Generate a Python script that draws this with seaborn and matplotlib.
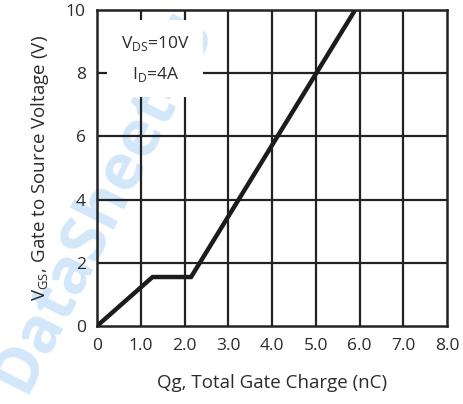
import matplotlib
matplotlib.use("Agg")
import matplotlib.pyplot as plt
import seaborn as sns
import pandas as pd

# Data
qg_nc = [0.0, 1.27, 2.15, 5.9]
vgs_v = [0.0, 1.55, 1.55, 10.0]
x_ticks = [0, 1, 2, 3, 4, 5, 6, 7, 8]
x_tick_labels = ["0", "1.0", "2.0", "3.0", "4.0", "5.0", "6.0", "7.0", "8.0"]
y_ticks = [0, 2, 4, 6, 8, 10]
y_tick_labels = ["0", "2", "4", "6", "8", "10"]

df = pd.DataFrame({"Qg": qg_nc, "Vgs": vgs_v})

sns.set_theme(style="white")
plt.rcParams["font.family"] = ["Open Sans", "DejaVu Sans"]
plt.rcParams["mathtext.fontset"] = "custom"
plt.rcParams["mathtext.rm"] = "Open Sans"

txt = "#2b2b2b"
fig = plt.figure(figsize=(4.63, 4.04), dpi=100)
ax = fig.add_axes([97/463, 78/404, 350/463, 316/404])
ax.set_facecolor("none")

# watermark
fig.text(0.225, 0.5, "DataSheet4U", rotation=63, fontsize=46, fontweight="bold",
         color="#d3e7fa", ha="center", va="center", zorder=-1)

ax.set_xlim(0, 8)
ax.set_ylim(0, 10)
for xv in x_ticks[1:-1]:
    ax.axvline(xv, color="#222222", lw=1.6, zorder=2)
for yv in y_ticks[1:-1]:
    ax.axhline(yv, color="#222222", lw=1.6, zorder=2)

sns.lineplot(data=df, x="Qg", y="Vgs", ax=ax, color="#1c1c1c", lw=3.2, zorder=4,
             solid_capstyle="butt", solid_joinstyle="miter", sort=False)

for s in ax.spines.values():
    s.set_color("#222222")
    s.set_linewidth(1.8)

ax.set_xticks(x_ticks)
ax.set_xticklabels(x_tick_labels)
ax.set_yticks(y_ticks)
ax.set_yticklabels(y_tick_labels)
ax.tick_params(axis="both", length=0, labelsize=12.5, colors=txt)
ax.tick_params(axis="x", pad=9)
ax.tick_params(axis="y", pad=8)

ax.set_xlabel("Qg, Total Gate Charge (nC)", fontsize=13.5, color=txt, labelpad=14)
ax.set_ylabel("V$_{\\mathregular{GS}}$, Gate to Source Voltage (V)", fontsize=13.5,
              color=txt, labelpad=11)

ax.text(1.33, 8.45, "V$_{\\mathregular{DS}}$=10V\nI$_{\\mathregular{D}}$=4A",
        fontsize=12.5, color=txt, ha="center", va="center", linespacing=1.8,
        zorder=3, bbox=dict(facecolor="white", edgecolor="none", pad=10))

fig.savefig("out.png", dpi=100)
